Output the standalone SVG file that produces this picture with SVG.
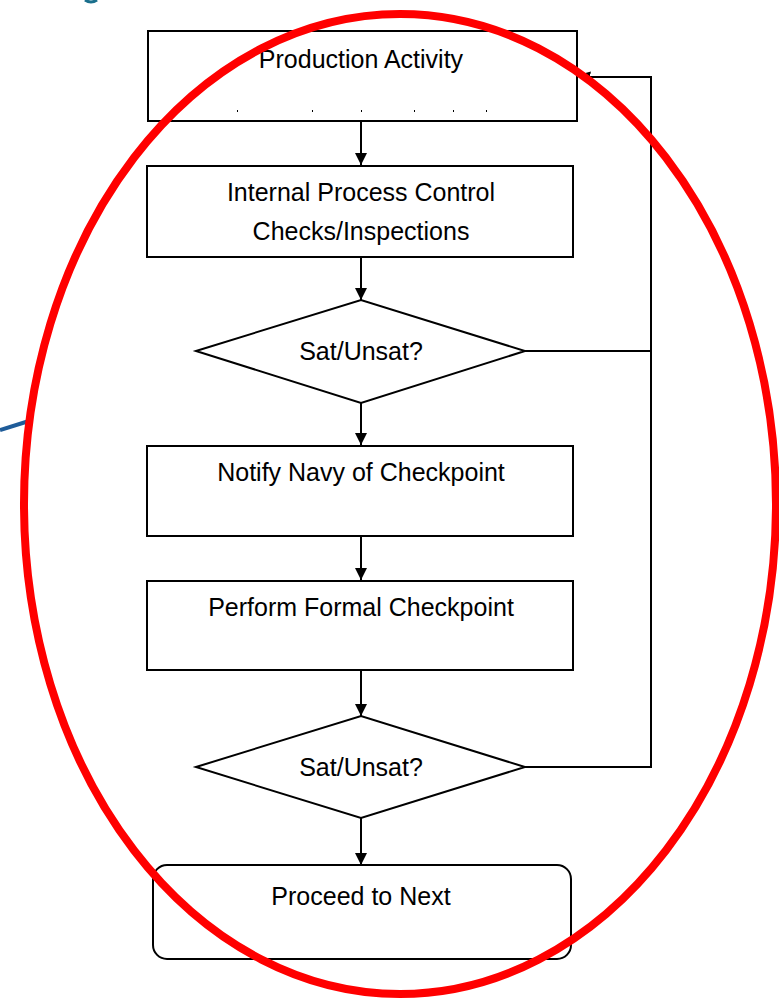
<svg xmlns="http://www.w3.org/2000/svg" width="779" height="1001" viewBox="0 0 779 1001">
<style>
.box{fill:#fff;stroke:#000;stroke-width:2}
.lbl{font-family:"Liberation Sans",Arial,sans-serif;font-size:25px;fill:#000;text-anchor:middle}
.con{fill:none;stroke:#000;stroke-width:2}
</style>
<defs>
<marker id="ah" viewBox="0 0 12 12" refX="12" refY="6" markerWidth="12" markerHeight="12" markerUnits="userSpaceOnUse" orient="auto">
<path d="M0,0 L12,6 L0,12 Z" fill="#000"/>
</marker>
</defs>
<rect width="779" height="1001" fill="#fff"/>
<path d="M85,0 Q91,4 97,0" fill="none" stroke="#1a6f8c" stroke-width="3"/>
<g id="n1">
<rect class="box" x="148" y="31" width="429" height="90"/>
<text class="lbl" x="361" y="68">Production Activity</text>
<g fill="#000"><rect x="237" y="110" width="1" height="2"/><rect x="312" y="110" width="1" height="2"/><rect x="361" y="110" width="1" height="2"/><rect x="414" y="110" width="1" height="2"/><rect x="453" y="110" width="1" height="2"/><rect x="486" y="110" width="1" height="2"/></g>
</g>
<g id="n2">
<rect class="box" x="147" y="166" width="426" height="91"/>
<text class="lbl" x="361" y="201">Internal Process Control</text>
<text class="lbl" x="361" y="240">Checks/Inspections</text>
</g>
<g id="n3">
<polygon class="box" points="196,351 361,300 525,351 361,403"/>
<text class="lbl" x="361" y="360">Sat/Unsat?</text>
</g>
<g id="n4">
<rect class="box" x="147" y="446" width="426" height="90"/>
<text class="lbl" x="361" y="481">Notify Navy of Checkpoint</text>
</g>
<g id="n5">
<rect class="box" x="147" y="581" width="426" height="89"/>
<text class="lbl" x="361" y="616">Perform Formal Checkpoint</text>
</g>
<g id="n6">
<polygon class="box" points="196,767 361,716 525,767 361,818"/>
<text class="lbl" x="361" y="776">Sat/Unsat?</text>
</g>
<g id="n7">
<rect class="box" x="153" y="865" width="418" height="94" rx="14"/>
<text class="lbl" x="361" y="905">Proceed to Next</text>
</g>
<g id="connectors">
<line class="con" x1="361" y1="121" x2="361" y2="165" marker-end="url(#ah)"/>
<line class="con" x1="361" y1="257" x2="361" y2="300" marker-end="url(#ah)"/>
<line class="con" x1="361" y1="403" x2="361" y2="445" marker-end="url(#ah)"/>
<line class="con" x1="361" y1="536" x2="361" y2="580" marker-end="url(#ah)"/>
<line class="con" x1="361" y1="670" x2="361" y2="716" marker-end="url(#ah)"/>
<line class="con" x1="361" y1="818" x2="361" y2="865" marker-end="url(#ah)"/>
<polyline class="con" points="525,351 651,351"/>
<polyline class="con" points="525,767 651,767 651,77 588,77 578,75" marker-end="url(#ah)"/>
</g>
<line x1="0" y1="430" x2="29" y2="421" stroke="#1f5c99" stroke-width="4"/>
<ellipse cx="400" cy="504" rx="376" ry="490" fill="none" stroke="#ff0000" stroke-width="8"/>
</svg>
